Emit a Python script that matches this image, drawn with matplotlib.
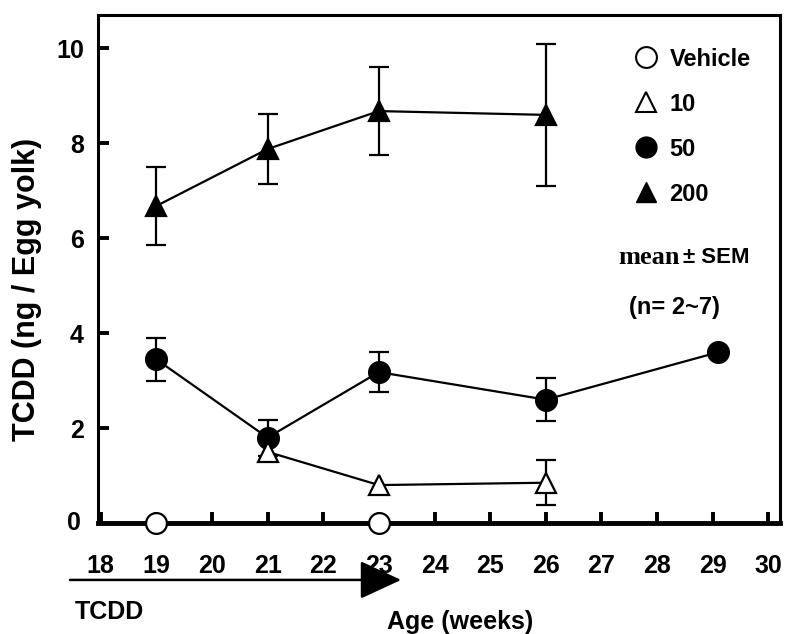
import matplotlib.pyplot as plt
from matplotlib.lines import Line2D

plt.rcParams['font.family'] = ['Liberation Sans', 'DejaVu Sans']
plt.rcParams['font.weight'] = 'bold'
plt.rcParams['axes.labelweight'] = 'bold'

# TCDD in egg yolk (ng / egg yolk) by hen age, mean +- SEM (0 = no bar)
veh_age = [19, 23]
veh_val = [0, 0]

d10_age = [21, 23, 26]
d10_val = [1.5, 0.8, 0.85]
d10_err = [0, 0, 0.48]

d50_age = [19, 21, 23, 26, 29.1]
d50_val = [3.45, 1.8, 3.18, 2.6, 3.6]
d50_err = [0.45, 0.38, 0.42, 0.45, 0]

d200_age = [19, 21, 23, 26]
d200_val = [6.68, 7.88, 8.68, 8.6]
d200_err = [0.82, 0.73, 0.93, 1.5]

xticks = list(range(18, 31))
yticks = [2, 4, 6, 8, 10]

fig = plt.figure(figsize=(7.89, 6.34), dpi=100)
ax = fig.add_axes([0.124, 0.175, 0.864, 0.801])


def series(age, val, err, marker, face, z):
    ax.plot(age, val, '-', color='black', lw=1.6, marker=marker, ms=15,
            mfc=face, mec='black', mew=1.6, zorder=z)
    pts = [(a, v, e) for a, v, e in zip(age, val, err) if e > 0]
    if pts:
        a, v, e = zip(*pts)
        ax.errorbar(a, v, yerr=e, fmt='none', ecolor='black', elinewidth=1.6,
                    capsize=7, capthick=1.6, zorder=z - 1)


series(d200_age, d200_val, d200_err, '^', 'black', 4)
series(d50_age, d50_val, d50_err, 'o', 'black', 4)
series(d10_age, d10_val, d10_err, '^', 'white', 6)
ax.plot(veh_age, veh_val, 'o', ms=15, mfc='white', mec='black', mew=1.6,
        zorder=7, clip_on=False)

ax.set_xlim(17.95, 30.2)
ax.set_ylim(0, 10.7)
ax.set_xticks(xticks)
ax.set_yticks(yticks)
ax.tick_params(direction='in', length=8, width=2.8, labelsize=18)
ax.tick_params(axis='x', pad=22)
ax.tick_params(axis='y', pad=10)
for lab in ax.get_xticklabels() + ax.get_yticklabels():
    lab.set_fontweight('bold')
for s in ['left', 'right', 'top']:
    ax.spines[s].set_linewidth(2.2)
ax.spines['bottom'].set_linewidth(3.5)
ax.text(-0.025, 0, '0', transform=ax.get_yaxis_transform(), ha='right',
        va='center', fontsize=18, fontweight='bold')

ax.set_ylabel('TCDD (ng / Egg yolk)', fontsize=22, fontweight='bold')
ax.yaxis.set_label_coords(-0.082, 0.46)

handles = [
    Line2D([], [], ls='none', marker='o', ms=15, mfc='white', mec='black', mew=1.5),
    Line2D([], [], ls='none', marker='^', ms=14, mfc='white', mec='black', mew=1.5),
    Line2D([], [], ls='none', marker='o', ms=15, mfc='black', mec='black'),
    Line2D([], [], ls='none', marker='^', ms=14, mfc='black', mec='black'),
]
ax.legend(handles, ['Vehicle', '10', '50', '200'], loc='upper left',
          bbox_to_anchor=(0.752, 0.978), frameon=False,
          prop={'size': 17, 'weight': 'bold'},
          labelspacing=0.93, handletextpad=0.4, handlelength=1.2)

ax.text(0.853, 0.522, 'mean', transform=ax.transAxes, ha='right',
        va='center', fontsize=19, family=['Liberation Serif'],
        fontweight='bold')
ax.text(0.858, 0.522, '\u00b1 SEM', transform=ax.transAxes, ha='left',
        va='center', fontsize=16, fontweight='bold')
ax.text(0.846, 0.425, '(n= 2~7)', transform=ax.transAxes, ha='center',
        va='center', fontsize=17, fontweight='bold')

xtr = ax.get_xaxis_transform()
ax.annotate('', xy=(23.4, -0.112), xytext=(17.45, -0.112), xycoords=xtr,
            textcoords=xtr, annotation_clip=False,
            arrowprops=dict(arrowstyle='-|>,head_length=1.3,head_width=0.6',
                            mutation_scale=20, lw=1.8, color='black',
                            shrinkA=0, shrinkB=0))
fig.text(0.095, 0.035, 'TCDD', fontsize=18, fontweight='bold',
         ha='left', va='center')
fig.text(0.583, 0.019, 'Age (weeks)', fontsize=18, fontweight='bold',
         ha='center', va='center')

fig.savefig('out.png', dpi=100)
